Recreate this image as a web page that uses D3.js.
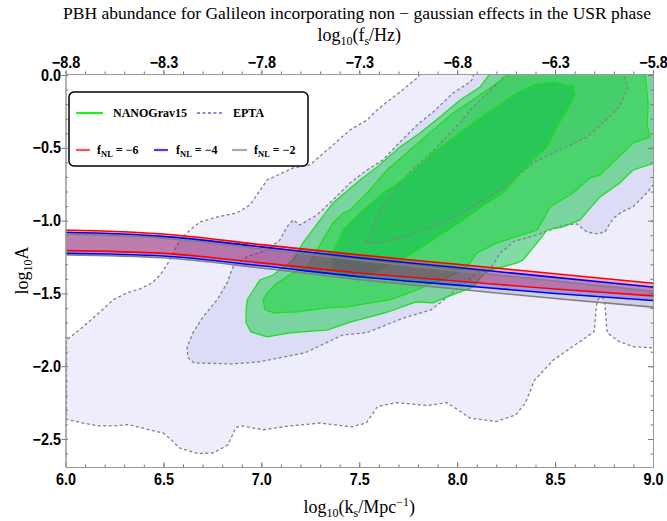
<!DOCTYPE html>
<html>
<head>
<meta charset="utf-8">
<script src="https://cdn.jsdelivr.net/npm/d3@7"></script>
<style>
  body { margin: 0; background: #fff; }
  .tick text { font-family: "Liberation Sans", Arial, sans-serif; font-weight: bold; font-size: 16px; fill: #000; }
  .serif { font-family: "Liberation Serif", "DejaVu Serif", serif; }
</style>
</head>
<body>
<svg id="chart" width="667" height="521"></svg>
<script>
// ---- data (x = log10 k_s, y = log10 A) ----
var xTicks = [6.0, 6.5, 7.0, 7.5, 8.0, 8.5, 9.0];
var yTicks = [0.0, -0.5, -1.0, -1.5, -2.0, -2.5];
var fTicks = [-8.8, -8.3, -7.8, -7.3, -6.8, -6.3, -5.8];

// EPTA contours
var eptaOuter = [
  [7.810, 0.007], [7.795, -0.021], [7.708, -0.117], [7.642, -0.185], [7.591, -0.240], [7.540, -0.309],
  [7.453, -0.377], [7.366, -0.480], [7.248, -0.618], [7.162, -0.638], [7.029, -0.721], [6.977, -0.824],
  [6.942, -0.892], [6.875, -0.947], [6.774, -0.975], [6.687, -1.009], [6.636, -1.064], [6.585, -1.132],
  [6.549, -1.222], [6.518, -1.304], [6.483, -1.373], [6.442, -1.428], [6.380, -1.469], [6.314, -1.496],
  [6.243, -1.544], [6.176, -1.627], [6.089, -1.730], [6.010, -1.815], [6.005, -1.819], [6.005, -2.363],
  [6.010, -2.366], [6.090, -2.390], [6.170, -2.410], [6.246, -2.410], [6.320, -2.400], [6.380, -2.420],
  [6.500, -2.460], [6.540, -2.505], [6.580, -2.560], [6.676, -2.600], [6.755, -2.595], [6.830, -2.540],
  [6.870, -2.420], [6.900, -2.410], [7.010, -2.436], [7.145, -2.410], [7.300, -2.390], [7.460, -2.416],
  [7.535, -2.390], [7.594, -2.276], [7.690, -2.250], [7.850, -2.270], [7.946, -2.250], [8.005, -2.300],
  [8.065, -2.356], [8.200, -2.380], [8.300, -2.333], [8.348, -2.253], [8.396, -2.093], [8.493, -1.956],
  [8.590, -1.865], [8.700, -1.762], [8.710, -1.590], [8.720, -1.540], [8.735, -1.525], [8.750, -1.540],
  [8.755, -1.590], [8.766, -1.770], [8.825, -1.830], [8.900, -1.865], [9.010, -1.875], [9.010, 0.010],
  [7.810, 0.010]
];
var eptaInner = [
  [8.081, 0.010], [8.081, -0.021], [8.066, -0.048], [7.979, -0.124], [7.877, -0.254], [7.795, -0.343],
  [7.708, -0.460], [7.621, -0.583], [7.540, -0.652], [7.453, -0.741], [7.366, -0.858], [7.284, -0.961],
  [7.197, -1.030], [7.162, -0.995], [7.131, -1.043], [7.095, -1.132], [7.029, -1.201], [6.927, -1.249],
  [6.855, -1.318], [6.825, -1.428], [6.774, -1.544], [6.702, -1.661], [6.651, -1.771], [6.620, -1.874],
  [6.626, -1.942], [6.656, -1.977], [6.850, -1.984], [6.988, -1.970], [7.223, -1.908], [7.418, -1.784],
  [7.535, -1.771], [7.729, -1.668], [7.866, -1.613], [7.912, -1.565], [8.015, -1.455], [8.101, -1.359],
  [8.168, -1.338], [8.219, -1.222], [8.254, -1.187], [8.285, -1.146], [8.408, -1.098], [8.541, -1.030],
  [8.611, -1.023], [8.662, -1.078], [8.714, -1.091], [8.755, -1.078], [8.781, -1.016], [8.806, -0.975],
  [8.840, -0.940], [8.897, -0.906], [8.968, -0.810], [9.010, -0.741], [9.010, 0.010]
];
var eptaCore = [
  [7.535, -1.153], [7.606, -0.940], [7.682, -0.789], [7.759, -0.666], [7.871, -0.528], [7.989, -0.364],
  [8.086, -0.213], [8.188, -0.082], [8.254, 0.010], [8.842, 0.010], [8.857, -0.021], [8.872, -0.089],
  [8.831, -0.213], [8.760, -0.309], [8.663, -0.426], [8.525, -0.515], [8.387, -0.604], [8.285, -0.721],
  [8.219, -0.789], [8.050, -0.927], [7.861, -1.050], [7.708, -1.119], [7.606, -1.153]
];

// NANOGrav15 contours
var ngOuter = [
  [8.168, 0.010], [8.117, -0.082], [8.015, -0.172], [7.912, -0.288], [7.810, -0.398], [7.708, -0.494],
  [7.591, -0.631], [7.504, -0.721], [7.366, -0.879], [7.300, -0.995], [7.213, -1.153], [7.162, -1.270],
  [7.060, -1.373], [6.993, -1.407], [6.927, -1.544], [6.922, -1.613], [6.922, -1.702], [6.947, -1.764],
  [7.029, -1.798], [7.146, -1.771], [7.340, -1.750], [7.458, -1.695], [7.632, -1.634], [7.790, -1.558],
  [7.877, -1.565], [7.948, -1.524], [8.081, -1.455], [8.132, -1.373], [8.168, -1.338], [8.234, -1.318],
  [8.306, -1.290], [8.336, -1.270], [8.408, -1.153], [8.459, -1.064], [8.541, -1.043], [8.627, -0.995],
  [8.729, -0.837], [8.831, -0.741], [8.898, -0.652], [9.010, -0.604], [9.010, 0.010]
];
var ngMid = [
  [8.270, 0.010], [8.204, -0.055], [8.102, -0.151], [7.979, -0.261], [7.877, -0.377], [7.759, -0.515],
  [7.642, -0.652], [7.540, -0.810], [7.453, -0.927], [7.417, -0.947], [7.366, -1.016], [7.335, -1.084],
  [7.264, -1.249], [7.233, -1.318], [7.162, -1.359], [7.080, -1.428], [7.029, -1.496], [7.009, -1.544],
  [7.019, -1.613], [7.065, -1.634], [7.182, -1.627], [7.340, -1.599], [7.437, -1.592], [7.555, -1.565],
  [7.657, -1.544], [7.795, -1.476], [7.877, -1.428], [7.948, -1.393], [8.050, -1.318], [8.101, -1.222],
  [8.152, -1.187], [8.203, -1.153], [8.254, -1.132], [8.408, -1.064], [8.439, -0.995], [8.474, -0.906],
  [8.591, -0.810], [8.678, -0.707], [8.729, -0.686], [8.847, -0.535], [8.898, -0.467], [8.985, -0.426],
  [8.970, -0.343], [8.975, -0.192], [8.960, 0.010]
];
var ngCore = [
  [7.366, -1.222], [7.417, -1.064], [7.504, -0.947], [7.621, -0.810], [7.744, -0.700], [7.877, -0.535],
  [8.015, -0.398], [8.152, -0.261], [8.306, -0.124], [8.387, -0.069], [8.489, -0.048], [8.591, -0.075],
  [8.602, -0.137], [8.561, -0.240], [8.510, -0.357], [8.459, -0.494], [8.387, -0.583], [8.306, -0.700],
  [8.234, -0.810], [8.152, -0.879], [8.015, -1.009], [7.877, -1.132], [7.759, -1.235], [7.632, -1.325],
  [7.504, -1.393], [7.402, -1.380], [7.361, -1.304]
];

// f_NL bands: upper and lower edges
var kBand = [6.0, 6.5, 7.0, 7.5, 8.0, 8.5, 9.0];
var red6Upper  = [-1.064, -1.092, -1.165, -1.235, -1.300, -1.365, -1.430];
var red6Lower  = [-1.206, -1.225, -1.290, -1.360, -1.415, -1.470, -1.517];
var blue4Upper = [-1.080, -1.108, -1.180, -1.255, -1.322, -1.390, -1.457];
var blue4Lower = [-1.224, -1.243, -1.310, -1.385, -1.443, -1.500, -1.549];
var gray2Upper = [-1.091, -1.120, -1.195, -1.272, -1.345, -1.415, -1.485];
var gray2Lower = [-1.235, -1.255, -1.325, -1.405, -1.470, -1.535, -1.594];

// ---- layout ----
var svg = d3.select("#chart");
var pL = 65.5, pR = 653, pT = 74, pB = 467;

var x = d3.scaleLinear().domain([6.0, 9.0]).range([pL, pR]);
var y = d3.scaleLinear().domain([-2.692, 0.007]).range([pB, pT]);
var xf = d3.scaleLinear().domain([-8.8, -5.8]).range([pL, pR]);

svg.append("defs").append("clipPath").attr("id", "plotclip")
  .append("rect").attr("x", pL).attr("y", pT).attr("width", pR - pL).attr("height", pB - pT);

var plot = svg.append("g").attr("clip-path", "url(#plotclip)");
var line = d3.line().x(function(d){ return x(d[0]); }).y(function(d){ return y(d[1]); }).curve(d3.curveLinearClosed);

// EPTA fills
plot.append("path").attr("d", line(eptaOuter)).attr("fill", "#ededfc");
plot.append("path").attr("d", line(eptaInner)).attr("fill", "#dcdcf7");
plot.append("path").attr("d", line(eptaCore)).attr("fill", "#c4c4f0");

// NANOGrav fills, translucent so EPTA shows through
plot.append("path").attr("d", line(ngOuter)).attr("fill", "rgb(40,205,90)").attr("fill-opacity", 0.55);
plot.append("path").attr("d", line(ngMid)).attr("fill", "rgb(30,210,60)").attr("fill-opacity", 0.5);
plot.append("path").attr("d", line(ngCore)).attr("fill", "rgb(20,195,75)").attr("fill-opacity", 0.6);

// EPTA dashed outlines
[eptaOuter, eptaInner, eptaCore].forEach(function(c){
  plot.append("path").attr("d", line(c)).attr("fill", "none")
    .attr("stroke", "#80808e").attr("stroke-width", 1.3).attr("stroke-dasharray", "3,2.5");
});
// NANOGrav outlines
[ngOuter, ngMid, ngCore].forEach(function(c){
  plot.append("path").attr("d", line(c)).attr("fill", "none")
    .attr("stroke", "#19e019").attr("stroke-width", 1.2);
});

// f_NL bands
var bands = [
  { up: gray2Upper, lo: gray2Lower, col: "#808080" },
  { up: blue4Upper, lo: blue4Lower, col: "#0000ff" },
  { up: red6Upper,  lo: red6Lower,  col: "#ff0000" }
];
var area = d3.area().x(function(d){ return x(d.k); }).y0(function(d){ return y(d.lo); })
  .y1(function(d){ return y(d.up); }).curve(d3.curveMonotoneX);
var edge = d3.line().x(function(d){ return x(d.k); }).y(function(d){ return y(d.v); }).curve(d3.curveMonotoneX);
bands.forEach(function(b){
  var rows = kBand.map(function(k, i){ return { k: k, up: b.up[i], lo: b.lo[i] }; });
  plot.append("path").attr("d", area(rows)).attr("fill", b.col).attr("fill-opacity", 0.25);
});
bands.forEach(function(b){
  [b.up, b.lo].forEach(function(arr){
    var pts = kBand.map(function(k, i){ return { k: k, v: arr[i] }; });
    plot.append("path").attr("d", edge(pts)).attr("fill", "none").attr("stroke", b.col).attr("stroke-width", 1.6);
  });
});

// ---- axes ----
var minorX = d3.range(60, 91).map(function(v){ return v / 10; });
var minorY = d3.range(-26, 1).map(function(v){ return v / 10; });
var minorF = d3.range(-88, -57).map(function(v){ return v / 10; });
var fmt = function(d){ return d3.format(".1f")(d).replace("-", "\u2212"); };

function styleAxis(g) {
  g.selectAll(".domain").attr("stroke", "#999").attr("stroke-width", 1);
  g.selectAll(".tick line").attr("stroke", "#777");
  g.selectAll(".tick text").attr("transform", "scale(0.9,1)");
}

var gb = svg.append("g").attr("transform", "translate(0," + pB + ")");
gb.call(d3.axisBottom(x).tickValues(minorX).tickSize(-2.5).tickSizeOuter(0).tickFormat(""));
gb.append("g").call(d3.axisBottom(x).tickValues(xTicks).tickSize(-5).tickSizeOuter(0).tickPadding(7).tickFormat(d3.format(".1f")));
styleAxis(gb);

var gt = svg.append("g").attr("transform", "translate(0," + pT + ")");
gt.call(d3.axisTop(xf).tickValues(minorF).tickSize(2.5).tickSizeOuter(0).tickFormat(""));
gt.append("g").call(d3.axisTop(xf).tickValues(fTicks).tickSize(4).tickSizeOuter(0).tickPadding(2).tickFormat(fmt));
styleAxis(gt);

var gl = svg.append("g").attr("transform", "translate(" + pL + ",0)");
gl.call(d3.axisLeft(y).tickValues(minorY).tickSize(-2.5).tickSizeOuter(0).tickFormat(""));
gl.append("g").call(d3.axisLeft(y).tickValues(yTicks).tickSize(4).tickSizeOuter(0).tickPadding(1).tickFormat(fmt));
styleAxis(gl);

var gr = svg.append("g").attr("transform", "translate(" + pR + ",0)");
gr.call(d3.axisRight(y).tickValues(minorY).tickSize(-2.5).tickSizeOuter(0).tickFormat(""));
gr.append("g").call(d3.axisRight(y).tickValues(yTicks).tickSize(-5).tickSizeOuter(0).tickFormat(""));
styleAxis(gr);

// ---- titles ----
var cx = (pL + pR) / 2;
svg.append("text").attr("class", "serif").attr("x", 357).attr("y", 19).attr("text-anchor", "middle")
  .attr("font-size", 17.5).text("PBH abundance for Galileon incorporating non \u2212 gaussian effects in the USR phase");

var tt = svg.append("text").attr("class", "serif").attr("x", cx).attr("y", 41).attr("text-anchor", "middle").attr("font-size", 18);
tt.append("tspan").text("log");
tt.append("tspan").attr("font-size", 12).attr("dy", 4).text("10");
tt.append("tspan").attr("dy", -4).text("(f");
tt.append("tspan").attr("font-size", 12).attr("dy", 4).text("s");
tt.append("tspan").attr("dy", -4).text("/Hz)");

var bt = svg.append("text").attr("class", "serif").attr("x", cx).attr("y", 513).attr("text-anchor", "middle").attr("font-size", 18);
bt.append("tspan").text("log");
bt.append("tspan").attr("font-size", 12).attr("dy", 4).text("10");
bt.append("tspan").attr("dy", -4).text("(k");
bt.append("tspan").attr("font-size", 12).attr("dy", 4).text("s");
bt.append("tspan").attr("dy", -4).text("/Mpc");
bt.append("tspan").attr("font-size", 12).attr("dy", -7).text("\u22121");
bt.append("tspan").attr("dy", 7).text(")");

var yt = svg.append("text").attr("class", "serif").attr("transform", "translate(28," + ((pT + pB) / 2) + ") rotate(-90)")
  .attr("text-anchor", "middle").attr("font-size", 18);
yt.append("tspan").text("log");
yt.append("tspan").attr("font-size", 12).attr("dy", 4).text("10");
yt.append("tspan").attr("dy", -4).text("A");

// ---- legend ----
var lg = svg.append("g");
lg.append("rect").attr("x", 69).attr("y", 92).attr("width", 239).attr("height", 74).attr("rx", 5)
  .attr("fill", "#fff").attr("stroke", "#000").attr("stroke-width", 1.5);

var legendRows = [
  { x1: 76, x2: 103, y: 113, col: "#22ee22", dash: null, tx: 113, label: ["NANOGrav15"] },
  { x1: 197, x2: 222, y: 113, col: "#8888dd", dash: "3,2.5", tx: 233, label: ["EPTA"] },
  { x1: 76, x2: 90, y: 150, col: "#ff5050", dash: null, tx: 97, label: ["f", "NL", " = \u22126"] },
  { x1: 154, x2: 168, y: 150, col: "#4040ff", dash: null, tx: 176, label: ["f", "NL", " = \u22124"] },
  { x1: 232, x2: 247, y: 150, col: "#a8a8a8", dash: null, tx: 254, label: ["f", "NL", " = \u22122"] }
];
legendRows.forEach(function(r){
  lg.append("line").attr("x1", r.x1).attr("x2", r.x2).attr("y1", r.y).attr("y2", r.y)
    .attr("stroke", r.col).attr("stroke-width", 2.2).attr("stroke-dasharray", r.dash);
  var t = lg.append("text").attr("class", "serif").attr("x", r.tx).attr("y", r.y + 4)
    .attr("font-size", 12).attr("font-weight", "bold");
  if (r.label.length === 1) {
    t.text(r.label[0]);
  } else {
    t.append("tspan").text(r.label[0]);
    t.append("tspan").attr("font-size", 8.5).attr("dy", 3).text(r.label[1]);
    t.append("tspan").attr("dy", -3).text(r.label[2]);
  }
});
</script>
</body>
</html>
